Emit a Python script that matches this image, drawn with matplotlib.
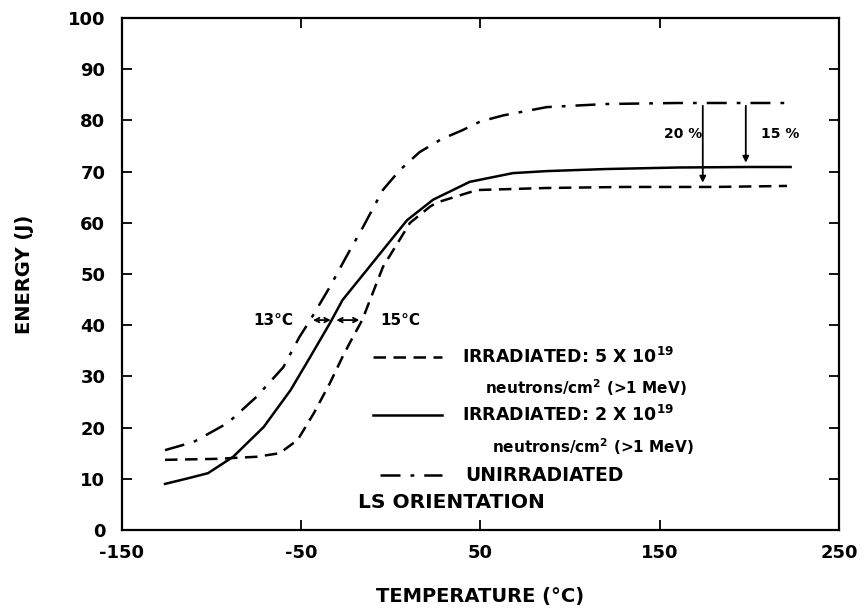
import matplotlib
matplotlib.use("Agg")
import matplotlib.pyplot as plt

plt.rcParams['font.family'] = ['DejaVu Sans']
plt.rcParams['font.weight'] = 'bold'

# Unirradiated (dash-dot)
unirr_x = [-126, -110, -91, -75, -60, -51, -45, -34, -25, -15.5, -4.5, 5, 16, 28, 40, 50, 63, 87, 120, 160, 200, 222]
unirr_y = [15.6, 17.2, 20.9, 26.0, 31.8, 37.7, 41.0, 47.5, 53.3, 59.2, 66.4, 70.3, 73.8, 76.3, 78.1, 79.8, 81.0, 82.6, 83.2, 83.4, 83.4, 83.4]

# Irradiated 2 x 10^19 (solid)
irr2_x = [-126, -112, -102, -88, -71, -56, -45, -34, -27, -12, 0, 9, 23.5, 44, 68, 87, 120, 160, 200, 223]
irr2_y = [9.0, 10.2, 11.1, 14.3, 20.1, 27.3, 33.8, 40.4, 44.9, 51.4, 56.6, 60.5, 64.5, 68.0, 69.7, 70.1, 70.5, 70.8, 70.9, 70.9]

# Irradiated 5 x 10^19 (dashed)
irr5_x = [-126, -97, -75, -62, -52, -43, -34, -27, -23, -16, -4.4, 10.7, 22, 26, 48, 87, 130, 180, 221]
irr5_y = [13.7, 13.9, 14.3, 15.0, 17.6, 22.8, 28.7, 33.8, 36.5, 41.0, 51.4, 60.0, 63.2, 64.0, 66.4, 66.8, 67.0, 67.0, 67.2]

xticks = [-150, -50, 50, 150, 250]
yticks = [0, 10, 20, 30, 40, 50, 60, 70, 80, 90, 100]

fig = plt.figure(figsize=(8.65, 6.12), dpi=100)
ax = fig.add_axes([0.14104, 0.13399, 0.82890, 0.83660])

ax.plot(irr5_x, irr5_y, color='black', lw=1.8, linestyle=(0, (5, 3)))
ax.plot(irr2_x, irr2_y, color='black', lw=1.8, linestyle='-')
ax.plot(unirr_x, unirr_y, color='black', lw=1.8, linestyle=(0, (8, 4, 1.5, 4)))

ax.set_xlim(-150, 250)
ax.set_ylim(0, 100)
ax.set_xticks(xticks)
ax.set_yticks(yticks)
ax.set_xticklabels([str(t) for t in xticks], fontsize=13, fontweight='bold')
ax.set_yticklabels([str(t) for t in yticks], fontsize=13, fontweight='bold')
ax.tick_params(direction='in', length=7, width=1.3, top=True, right=True, pad=10)
ax.tick_params(axis='y', pad=12)
for s in ax.spines.values():
    s.set_linewidth(1.6)

ax.set_xlabel('TEMPERATURE (°C)', fontsize=14, fontweight='bold', labelpad=18)
ax.set_ylabel('ENERGY (J)', fontsize=14, fontweight='bold', labelpad=24)

# legend drawn manually
fs_leg = 12.5
ax.plot([-10, 28.5], [33.8, 33.8], color='black', lw=1.8, linestyle=(0, (5, 3)))
ax.text(39.7, 33.8, 'IRRADIATED: 5 X 10$^{\\mathbf{19}}$', fontsize=fs_leg, fontweight='bold', va='center', ha='left')
ax.text(52.5, 27.9, 'neutrons/cm$^{\\mathbf{2}}$ (>1 MeV)', fontsize=11, fontweight='bold', va='center', ha='left')
ax.plot([-10, 28.5], [22.5, 22.5], color='black', lw=1.8, linestyle='-')
ax.text(39.7, 22.5, 'IRRADIATED: 2 X 10$^{\\mathbf{19}}$', fontsize=fs_leg, fontweight='bold', va='center', ha='left')
ax.text(56.4, 16.2, 'neutrons/cm$^{\\mathbf{2}}$ (>1 MeV)', fontsize=11, fontweight='bold', va='center', ha='left')
ax.plot([-6, 28.5], [10.7, 10.7], color='black', lw=1.8, linestyle=(0, (8, 4, 1.5, 4)))
ax.text(41.4, 10.7, 'UNIRRADIATED', fontsize=13.5, fontweight='bold', va='center', ha='left')
ax.text(-18.3, 5.3, 'LS ORIENTATION', fontsize=14.5, fontweight='bold', va='center', ha='left')

# temperature shift annotations
ax.annotate('', xy=(-45, 41), xytext=(-32, 41),
            arrowprops=dict(arrowstyle='<->', lw=1.3, color='black', mutation_scale=8))
ax.annotate('', xy=(-32, 41), xytext=(-16, 41),
            arrowprops=dict(arrowstyle='<->', lw=1.3, color='black', mutation_scale=8))
ax.text(-54.6, 41, '13°C', fontsize=11, fontweight='bold', va='center', ha='right')
ax.text(-6.1, 41, '15°C', fontsize=11, fontweight='bold', va='center', ha='left')

# percentage drops
ax.annotate('', xy=(174, 67.3), xytext=(174, 83.4),
            arrowprops=dict(arrowstyle='-|>', lw=1.3, color='black', mutation_scale=9))
ax.annotate('', xy=(198, 71.2), xytext=(198, 83.4),
            arrowprops=dict(arrowstyle='-|>', lw=1.3, color='black', mutation_scale=9))
ax.text(163, 77.3, '20 %', fontsize=10, fontweight='bold', va='center', ha='center')
ax.text(217, 77.3, '15 %', fontsize=10, fontweight='bold', va='center', ha='center')

fig.savefig('out.png', dpi=100)
